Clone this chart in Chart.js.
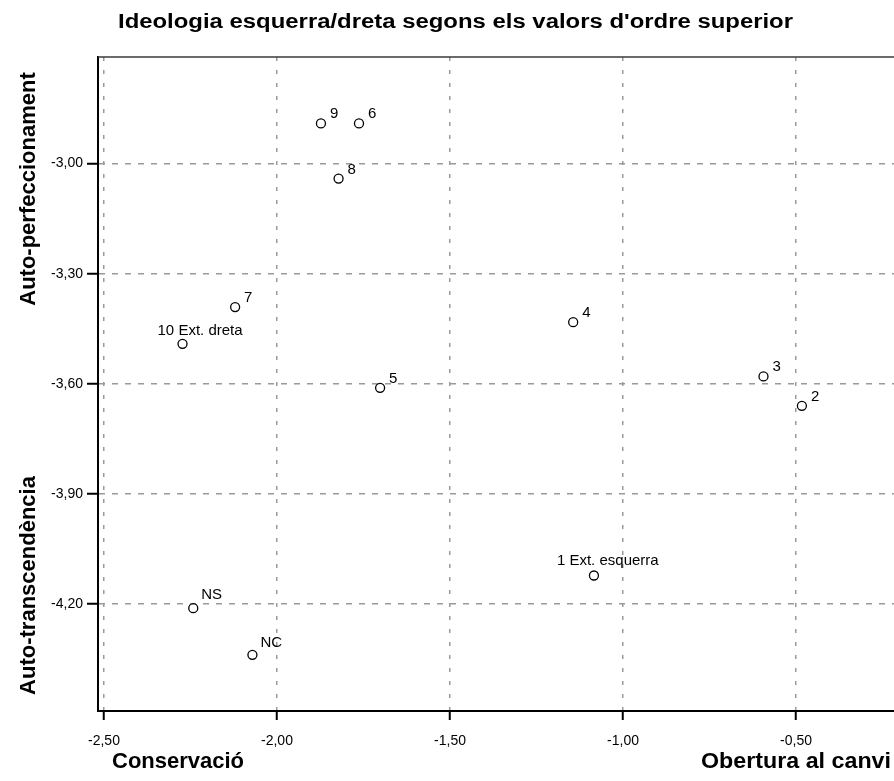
<!DOCTYPE html>
<html>
<head>
<meta charset="utf-8">
<script src="https://cdn.jsdelivr.net/npm/chart.js@4.4.1/dist/chart.umd.min.js"></script>
<style>
  html, body { margin: 0; padding: 0; background: #fff; overflow: hidden; }
  #wrap { width: 894px; height: 781px; }
</style>
</head>
<body>
<div id="wrap"><canvas id="chart1" width="894" height="781"></canvas></div>
<script>
"use strict";
// values
var categories = ['1 Ext. esquerra', '2', '3', '4', '5', '6', '7', '8', '9', '10 Ext. dreta', 'NS', 'NC'];
var conservacioObertura = [-1.084, -0.483, -0.594, -1.144, -1.702, -1.763, -2.121, -1.822, -1.873, -2.273, -2.242, -2.071];
var perfeccionamentTranscendencia = [-4.122, -3.660, -3.580, -3.432, -3.611, -2.891, -3.391, -3.041, -2.891, -3.491, -4.211, -4.338];
var xTicks = [-2.5, -2.0, -1.5, -1.0, -0.5];
var yTicks = [-4.2, -3.9, -3.6, -3.3, -3.0];

var chartTitle = "Ideologia esquerra/dreta segons els valors d'ordre superior";

// label offsets from the marker (px)
var labelOffsets = {
  '1 Ext. esquerra': [-37, -10],
  '10 Ext. dreta': [-25, -9],
  'NS': [8, -9],
  'NC': [8, -8]
};

function fmt(v) {
  return v.toFixed(2).replace('.', ',');
}

function stretchText(c, txt, x, y, font, width, align) {
  c.save();
  c.font = font;
  c.textAlign = align;
  c.textBaseline = 'alphabetic';
  var sx = width ? width / c.measureText(txt).width : 1;
  c.translate(x, y);
  c.scale(sx, 1);
  c.fillText(txt, 0, 0);
  c.restore();
}

var decor = {
  id: 'decor',
  afterDraw: function (chart) {
    var c = chart.ctx, a = chart.chartArea;
    c.save();
    // top frame line
    c.strokeStyle = '#3a3a3a';
    c.lineWidth = 1.5;
    c.beginPath();
    c.moveTo(a.left, a.top);
    c.lineTo(a.right, a.top);
    c.stroke();

    c.fillStyle = '#000';
    stretchText(c, chartTitle, 455.5, 27.5, 'bold 20px "Liberation Sans", Arial', 675, 'center');

    // axis end titles
    stretchText(c, 'Conservació', 112, 768, 'bold 22px "Liberation Sans", Arial', 0, 'left');
    stretchText(c, 'Obertura al canvi', 701, 768, 'bold 22px "Liberation Sans", Arial', 190, 'left');

    c.font = 'bold 22px "Liberation Sans", Arial';
    c.textAlign = 'center';
    c.textBaseline = 'alphabetic';
    c.save();
    c.translate(35, 189);
    c.rotate(-Math.PI / 2);
    c.fillText('Auto-perfeccionament', 0, 0);
    c.restore();
    c.save();
    c.translate(35, 585.5);
    c.rotate(-Math.PI / 2);
    c.fillText('Auto-transcendència', 0, 0);
    c.restore();

    // point labels
    var meta = chart.getDatasetMeta(0);
    c.font = '15px "Liberation Sans", Arial';
    c.textAlign = 'left';
    meta.data.forEach(function (pt, i) {
      var name = categories[i];
      var off = labelOffsets[name] || [9, -5];
      c.fillText(name, pt.x + off[0], pt.y + off[1]);
    });
    c.restore();
  }
};

var points = conservacioObertura.map(function (x, i) {
  return { x: x, y: perfeccionamentTranscendencia[i] };
});

var ctx = document.getElementById('chart1').getContext('2d');
var myChart = new Chart(ctx, {
  type: 'scatter',
  data: {
    datasets: [{
      label: 'Ideologia',
      data: points,
      pointRadius: 4.5,
      pointBorderWidth: 1.3,
      pointBorderColor: '#000',
      pointBackgroundColor: 'rgba(255,255,255,0)'
    }]
  },
  options: {
    responsive: false,
    animation: false,
    layout: { autoPadding: false, padding: { top: 57, left: 0, right: 0, bottom: 0 } },
    plugins: {
      legend: { display: false },
      tooltip: { enabled: false },
      title: { display: false }
    },
    scales: {
      x: {
        type: 'linear',
        min: -2.5173,
        max: -0.2168,
        afterBuildTicks: function (s) {
          s.ticks = xTicks.map(function (v) { return { value: v }; });
        },
        afterFit: function (s) {
          s.height = 70;
          s.paddingLeft = 0;
          s.paddingRight = 0;
        },
        ticks: {
          color: '#000',
          font: { family: '"Liberation Sans", Arial', size: 14 },
          padding: 13,
          maxRotation: 0,
          callback: function (v) { return fmt(v); }
        },
        grid: {
          color: '#9a9a9a',
          lineWidth: 1.5,
          tickLength: 9,
          tickColor: '#000',
          tickWidth: 2,
          tickBorderDash: []
        },
        border: { display: true, color: '#000', width: 2, dash: [4, 9] }
      },
      y: {
        type: 'linear',
        min: -4.491,
        max: -2.710,
        afterBuildTicks: function (s) {
          s.ticks = yTicks.map(function (v) { return { value: v }; });
        },
        afterFit: function (s) {
          s.width = 98;
          s.paddingTop = 0;
          s.paddingBottom = 0;
        },
        ticks: {
          color: '#000',
          font: { family: '"Liberation Sans", Arial', size: 14 },
          padding: 4,
          callback: function (v) { return fmt(v); }
        },
        grid: {
          color: '#9a9a9a',
          lineWidth: 1.5,
          tickLength: 11,
          tickColor: '#000',
          tickWidth: 2,
          tickBorderDash: []
        },
        border: { display: true, color: '#000', width: 2, dash: [6, 7] }
      }
    }
  },
  plugins: [decor]
});
</script>
</body>
</html>
